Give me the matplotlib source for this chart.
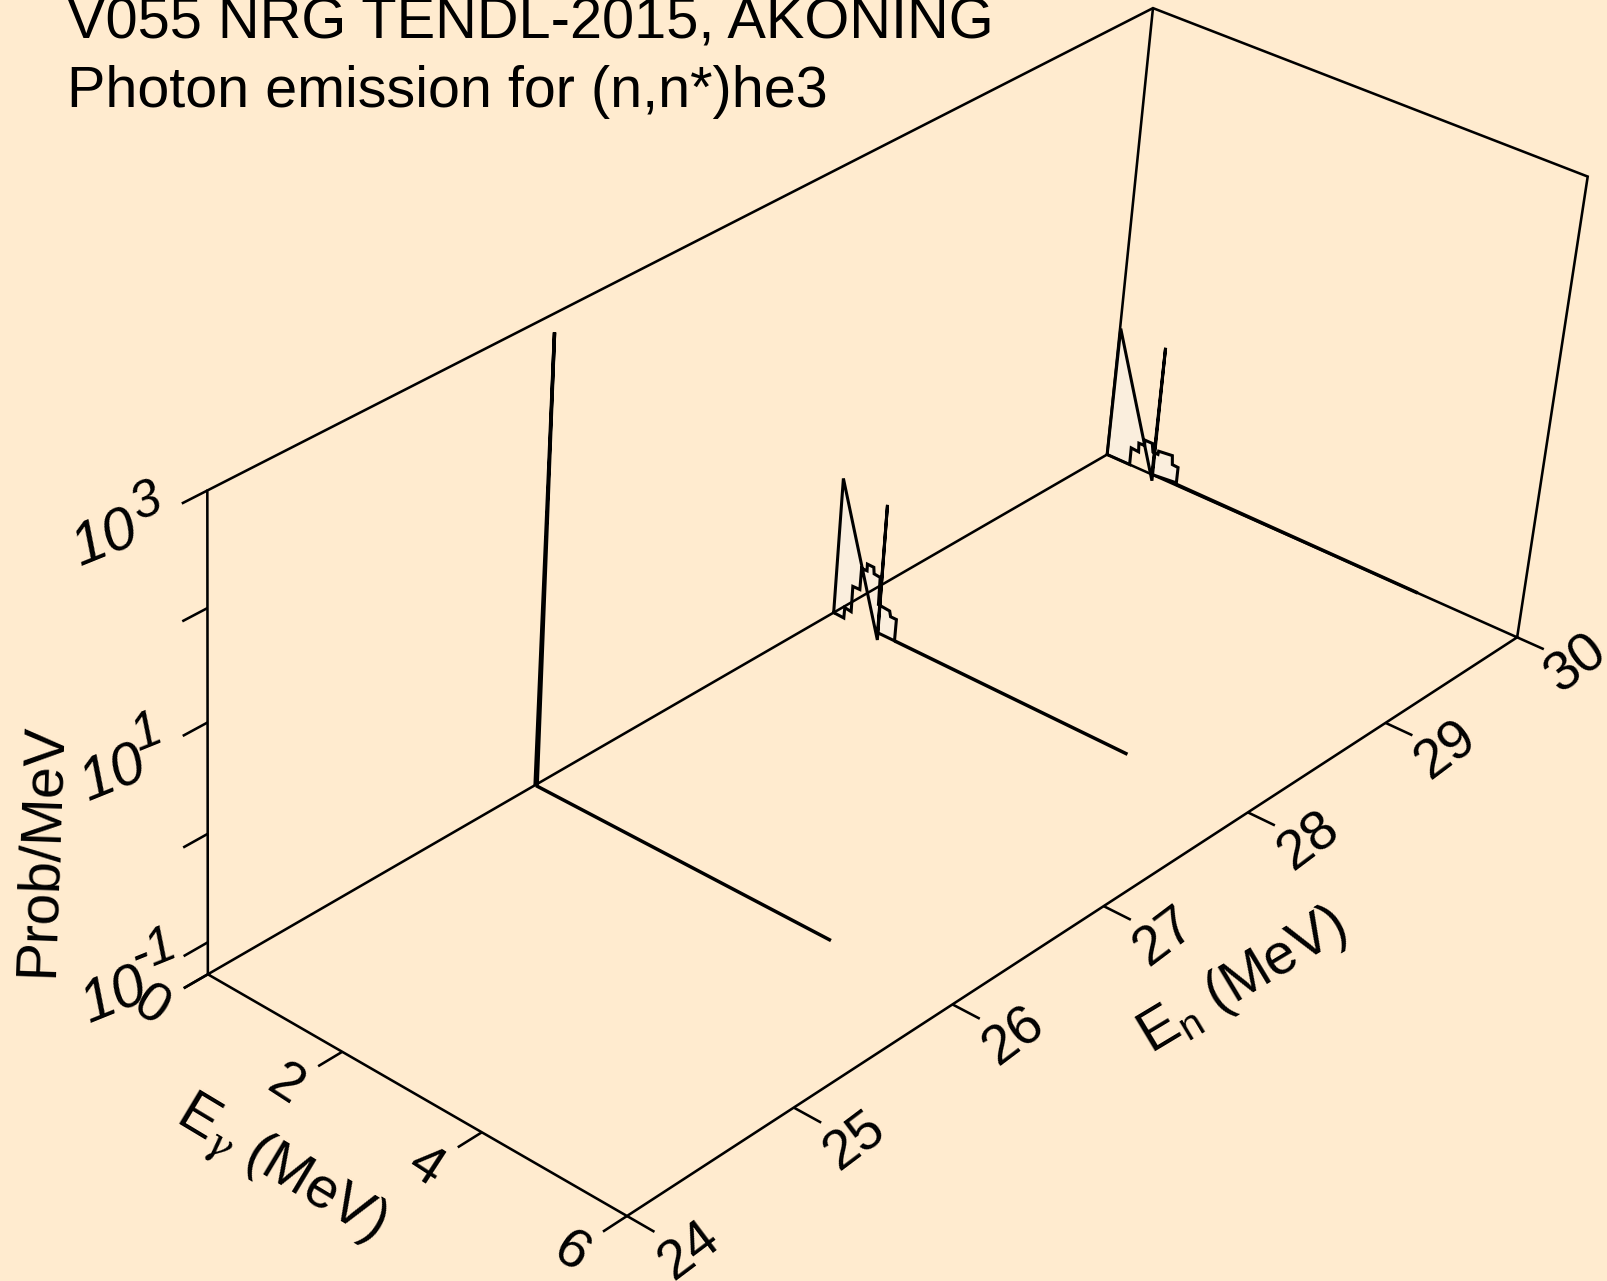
import numpy as np
import matplotlib as mpl
from matplotlib import pyplot as plt

mpl.rcParams['font.family'] = ['Liberation Sans', 'DejaVu Sans']
mpl.rcParams['mathtext.fontset'] = 'custom'
mpl.rcParams['mathtext.rm'] = 'Liberation Sans'
mpl.rcParams['mathtext.it'] = 'DejaVu Serif:italic'

BG = '#ffebcf'
FENCE = '#faeedd'
W, H = 1607, 1281

# axis ranges, log10 of Prob/MeV on the vertical
eg_ticks = [0, 2, 4, 6]
en_ticks = [24, 25, 26, 27, 28, 29, 30]
z_ticks = [3, 2, 1, 0, -1]
z_min = -1.3
z_max = 3.0

# spectra, (Egamma, log10 prob)
en26_eg = [0.0, 0.03, 0.03, 4.32]
en26_z = [-1.3, 2.85, -1.3, -1.3]

en28_eg = [0.0, 0.0, 0.67, 0.665, 0.665, 0.92, 0.923, 0.836, 0.816, 0.646, 0.641, 0.549,
           0.5375, 0.441, 0.443, 0.361, 0.359, 0.253, 0.256, 0.158, 0.155, 0.0]
en28_z = [-1.3, 0.005, -1.36, -0.05, -1.29, -1.29, -1.08, -1.08, -1.03, -1.02, -0.757, -0.75,
          -0.69, -0.689, -0.753, -0.754, -0.962, -0.964, -1.211, -1.202, -1.305, -1.3]
en28_tail_eg = [0.92, 4.32]
en28_tail_z = [-1.29, -1.3]

en30_eg = [0.0, 0.01, 0.695, 0.685, 0.685, 1.052, 1.052, 0.965, 0.951, 0.746, 0.741, 0.665,
           0.642, 0.53, 0.5335, 0.4475, 0.456, 0.343, 0.345, 0.0]
en30_z = [-1.3, -0.04, -1.36, -0.04, -1.30, -1.276, -1.122, -1.118, -1.032, -1.048, -1.081, -1.08,
          -1.0, -1.0, -1.053, -1.055, -1.139, -1.133, -1.3, -1.3]
en30_tail_eg = [1.052, 4.6]
en30_tail_z = [-1.29, -1.3]

# where known box points land in the picture, used to solve the camera
cam_xyz = [(0, 24, z_min), (2, 24, z_min), (4, 24, z_min), (6, 24, z_min),
           (6, 25, z_min), (6, 26, z_min), (6, 27, z_min), (6, 28, z_min),
           (6, 29, z_min), (6, 30, z_min), (0, 30, z_min),
           (0, 24, 3), (0, 24, 2), (0, 24, 1), (0, 24, 0), (0, 24, -1),
           (0, 30, 3), (6, 30, 3)]
cam_px = [(208.3, 974), (342.7, 1051.7), (481, 1132.7), (626.6, 1216),
          (794, 1107), (953, 1004), (1103.8, 906), (1247.8, 812.3),
          (1386, 723.3), (1516.8, 638), (1107, 454),
          (207.5, 490.4), (207.5, 608), (207.5, 723), (207.5, 834), (207.5, 942.5),
          (1153, 8.2), (1587.6, 176.3)]


def solveCamera(xyz, px):
    A, b = [], []
    for (x, y, z), (u, v) in zip(xyz, px):
        A.append([x, y, z, 1, 0, 0, 0, 0, -u * x, -u * y, -u * z])
        A.append([0, 0, 0, 0, x, y, z, 1, -v * x, -v * y, -v * z])
        b += [u, v]
    p = np.linalg.lstsq(np.array(A, float), np.array(b, float), rcond=None)[0]
    return np.append(p, 1.0).reshape(3, 4)


CAM = solveCamera(cam_xyz, cam_px)


def project(eg, en, z):
    eg, en, z = np.broadcast_arrays(np.asarray(eg, float), np.asarray(en, float), np.asarray(z, float))
    q = CAM @ np.array([eg.ravel(), en.ravel(), z.ravel(), np.ones(eg.size)])
    return q[0] / q[2], q[1] / q[2]


f = plt.figure(figsize=(W / 100, H / 100), dpi=100, facecolor=BG)
ax = f.add_axes([0, 0, 1, 1])
ax.set_xlim(0, W)
ax.set_ylim(H, 0)
ax.axis('off')

LW_BOX = 1.85
LW_DATA = 2.5


def line3(eg, en, z, lw=LW_BOX, **kw):
    x, y = project(eg, en, z)
    ax.plot(x, y, color='k', lw=lw, solid_capstyle='butt', solid_joinstyle='miter', **kw)


# box
line3([0, 6, 6, 0, 0], [24, 24, 30, 30, 24], [z_min] * 5)
line3([0, 0, 0, 6, 6], [24, 24, 30, 30, 30], [z_min, z_max, z_max, z_max, z_min])
line3([0, 0], [30, 30], [z_min, z_max])

# ticks
for t in eg_ticks:
    line3([t, t], [24, 23.86], [z_min, z_min])
for t in en_ticks:
    line3([6, 6.37], [t, t], [z_min, z_min])
for t in z_ticks + [z_min]:
    line3([0, 0], [24, 23.86], [t, t])

# fences
line3(en26_eg, [26] * len(en26_eg), en26_z, lw=LW_DATA)

for en, eg, z, teg, tz in [(28, en28_eg, en28_z, en28_tail_eg, en28_tail_z),
                           (30, en30_eg, en30_z, en30_tail_eg, en30_tail_z)]:
    x, y = project(eg, [en] * len(eg), z)
    ax.fill(x, y, facecolor=FENCE, edgecolor='none')
    ax.plot(x, y, color='k', lw=LW_DATA - 0.3, solid_joinstyle='miter')
    line3(teg, [en] * 2, tz, lw=LW_DATA)

# titles run off the top of the page in the original
ax.text(67, 38, 'V055 NRG TENDL-2015, AKONING', fontsize=41.6, ha='left', va='baseline')
ax.text(67, 107, 'Photon emission for (n,n*)he3', fontsize=41.4, ha='left', va='baseline')

# tick labels
lab = dict(fontsize=40, ha='center', va='center', rotation_mode='anchor')
for t in eg_ticks:
    x, y = project(t, 23.67, z_min)
    ax.text(x[0], y[0], str(t), rotation=-33, **lab)
for t in en_ticks:
    x, y = project(6.83, t, z_min)
    ax.text(x[0], y[0], str(t), rotation=37, **lab)

ital = dict(style='italic', ha='center', va='center', rotation_mode='anchor', rotation=22)
ax.text(105, 540, '10', fontsize=43, **ital)
ax.text(147, 503, '3', fontsize=37, **ital)
ax.text(113, 775, '10', fontsize=43, **ital)
ax.text(147, 733, '1', fontsize=37, **ital)
ax.text(114, 997, '10', fontsize=43, **ital)
ax.text(154, 951, '-1', fontsize=37, **ital)

# axis labels
ax.text(280, 1170, r'E$_{\gamma}$ (MeV)', fontsize=41, rotation=-31, ha='center', va='center',
        rotation_mode='anchor')
ax.text(1242, 981, r'E$_{\mathrm{n}}$ (MeV)', fontsize=41, rotation=31, ha='center', va='center',
        rotation_mode='anchor')
ax.text(41, 850, 'Prob/MeV', fontsize=41, rotation=88, ha='center', va='center', rotation_mode='anchor')

f.savefig('out.png', dpi=100, facecolor=BG)
